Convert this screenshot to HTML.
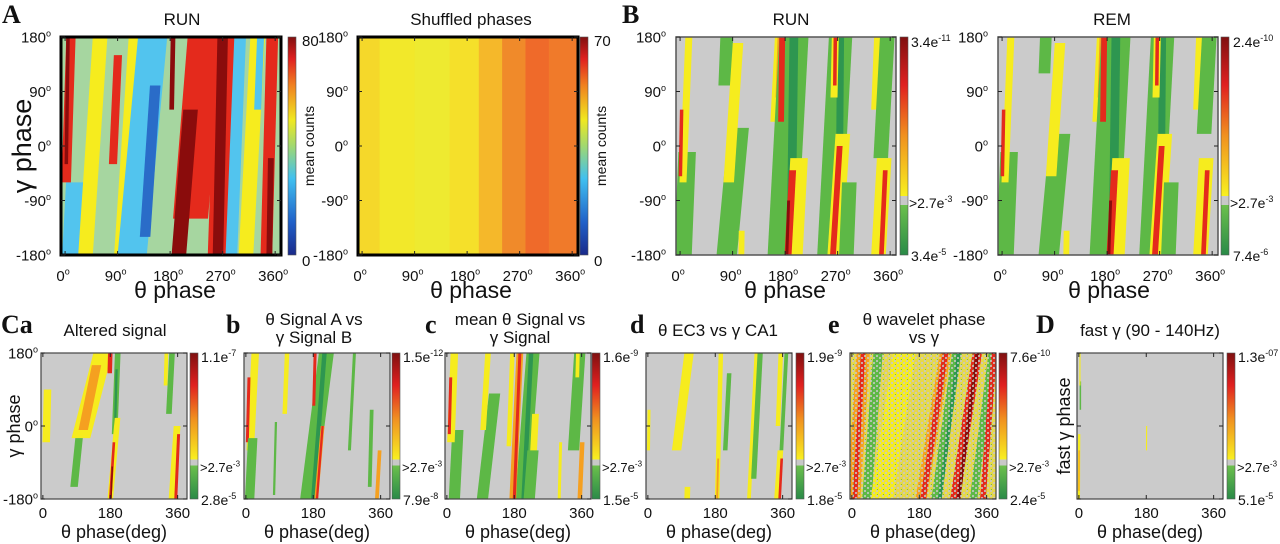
<!DOCTYPE html>
<html><head><meta charset="utf-8">
<style>
html,body{margin:0;padding:0;background:#fff;}
svg{display:block;font-family:"Liberation Sans",sans-serif;}
</style></head>
<body>
<svg id="fig" width="1280" height="544" viewBox="0 0 1280 544" xmlns="http://www.w3.org/2000/svg">
<defs>
<linearGradient id="jet" x1="0" y1="1" x2="0" y2="0">
<stop offset="0" stop-color="#1a2a8a"/><stop offset="0.15" stop-color="#2060c8"/><stop offset="0.35" stop-color="#40c0f0"/><stop offset="0.5" stop-color="#a0d870"/><stop offset="0.62" stop-color="#f0e820"/><stop offset="0.78" stop-color="#f08020"/><stop offset="0.9" stop-color="#e02020"/><stop offset="1" stop-color="#801010"/>
</linearGradient>
<linearGradient id="sig" x1="0" y1="1" x2="0" y2="0">
<stop offset="0" stop-color="#2a8a48"/><stop offset="0.23" stop-color="#6cc04c"/><stop offset="0.23" stop-color="#c8c8c8"/><stop offset="0.27" stop-color="#c8c8c8"/><stop offset="0.27" stop-color="#f8f020"/><stop offset="0.55" stop-color="#f09020"/><stop offset="0.78" stop-color="#e02020"/><stop offset="1" stop-color="#801010"/>
</linearGradient>
<pattern id="speck" width="6" height="5" patternUnits="userSpaceOnUse">
<rect x="0" y="0" width="2" height="2" fill="#c8c8c8"/><rect x="3" y="2" width="2" height="2" fill="#c8c8c8"/><rect x="1" y="4" width="1" height="1" fill="#60b848"/>
</pattern>
</defs>
<g id="root"></g>
</svg>
<script>
// bands: [theta at gamma=-180, theta at gamma=180, width(deg), gamma start, gamma end, color key]
const bandsARun = [
 [10,30,30,-180,-60,'C'],[35,60,25,-180,180,'Y'],[-2,10,16,-60,180,'R'],[0,5,6,-30,180,'DR'],
 [95,120,22,-180,180,'Y'],[115,150,50,-180,180,'C'],[135,160,18,-150,100,'B'],[75,92,14,-30,150,'R'],
 [210,240,60,-120,180,'R'],[195,225,25,-180,60,'DR'],[178,185,8,60,180,'DR'],
 [262,275,35,-180,180,'R'],[262,270,18,-180,180,'DR'],[285,300,20,-180,180,'C'],
 [310,330,25,-180,180,'Y'],[345,355,20,-180,180,'R'],[350,356,10,-180,-20,'DR'],[320,335,12,60,180,'C']
];
const shuffledTheta = [-7,30,90,150,200,240,280,320,370];
const shuffledColor = ['#f5d82a','#f2e82a','#eeea30','#f5e02a','#f5b82a','#f08a2a','#ef6a2a','#f07a2a','#f2a02a'];
const bandsBRun = [
 [5,20,30,-180,-10,'G'],[0,15,12,-60,180,'Y'],[-2,5,6,-50,60,'R'],[65,80,22,100,180,'G'],
 [80,115,35,-180,30,'G'],[75,100,18,-60,170,'Y'],[105,110,10,-180,-140,'Y'],
 [150,170,15,40,180,'Y'],[158,170,6,80,180,'O'],[175,195,50,-180,180,'G'],[190,195,15,-180,180,'DG'],
 [170,175,10,40,180,'R'],[195,215,30,-180,-20,'Y'],[185,205,12,-180,-40,'R'],[183,195,5,-180,-90,'DR'],
 [255,275,40,-180,180,'G'],[272,275,12,-90,180,'DG'],[265,290,25,-180,20,'Y'],[262,285,10,-180,0,'R'],
 [258,266,12,80,180,'Y'],[262,266,6,100,180,'R'],[285,300,25,-180,-60,'G'],[325,340,15,60,180,'Y'],
 [335,355,25,-20,180,'G'],[340,362,25,-180,-20,'Y'],[345,362,8,-180,-40,'R']
];
const bandsBRem = [
 [5,20,30,-180,-10,'G'],[0,15,12,-60,180,'Y'],[-2,5,6,-50,60,'R'],[60,75,20,120,180,'G'],
 [80,115,35,-180,20,'G'],[75,100,18,-50,170,'Y'],[110,115,10,-180,-140,'Y'],
 [150,170,15,40,180,'Y'],[158,170,6,80,180,'O'],[175,195,50,-180,180,'G'],[190,195,15,-180,180,'DG'],
 [170,175,10,40,180,'R'],[195,215,30,-180,-20,'Y'],[185,205,12,-180,-40,'R'],[183,195,5,-180,-90,'DR'],
 [255,275,40,-180,180,'G'],[272,275,12,-90,180,'DG'],[265,290,25,-180,20,'Y'],[262,285,10,-180,0,'R'],
 [258,266,12,80,180,'Y'],[262,266,6,100,180,'R'],[285,300,25,-180,-60,'G'],[325,340,15,60,180,'Y'],
 [335,355,25,20,180,'G'],[340,362,25,-180,-20,'Y'],[345,362,8,-180,-40,'R']
];
const bandsCa = [
 [5,15,20,-40,90,'Y'],[60,160,50,-30,180,'Y'],[70,150,25,-10,150,'O'],[80,120,20,-150,-30,'G'],
 [185,200,15,-20,180,'G'],[188,198,6,0,140,'DG'],[170,180,12,130,180,'R'],[180,215,15,-180,20,'Y'],
 [180,205,7,-180,-40,'R'],[182,198,4,-180,-100,'DR'],[325,345,15,30,180,'G'],[320,330,10,100,180,'Y'],
 [345,372,18,-180,0,'Y'],[355,372,8,-180,-20,'R']
];
const bandsCb = [
 [5,25,20,-60,180,'Y'],[0,10,8,-40,120,'R'],[10,30,25,-180,-30,'G'],[95,110,12,30,180,'Y'],
 [75,85,6,-170,10,'G'],[165,215,40,-180,180,'G'],[180,210,12,-180,180,'DG'],[175,185,8,50,180,'R'],
 [188,222,10,-180,0,'O'],[190,220,6,-180,0,'R'],[270,290,8,-60,180,'G'],[330,340,10,-150,40,'G'],
 [350,372,10,-180,-60,'O']
];
const bandsCc = [
 [20,40,30,-180,-10,'G'],[5,20,20,-40,180,'Y'],[2,12,8,-20,120,'R'],[95,140,30,-180,80,'G'],
 [85,110,15,-10,180,'Y'],[160,175,12,-50,180,'Y'],[200,230,35,-180,180,'G'],[205,225,12,-180,180,'DG'],
 [176,195,18,-180,180,'O'],[180,195,8,-180,180,'R'],[225,245,18,-180,30,'Y'],[220,250,30,-180,-60,'G'],
 [300,310,8,-180,-40,'Y'],[330,355,30,-60,180,'G'],[340,350,10,120,180,'Y'],[355,372,12,-180,-40,'O']
];
const bandsCd = [
 [0,5,8,-60,40,'Y'],[60,110,25,-60,180,'Y'],[105,115,15,-180,-150,'Y'],[185,195,12,-180,180,'Y'],
 [185,195,5,-180,-80,'O'],[200,220,12,-60,130,'G'],[270,290,10,-180,180,'Y'],[280,300,14,-130,180,'G'],
 [340,355,12,0,180,'Y'],[350,370,10,-60,180,'G'],[345,372,15,-180,-60,'Y'],[352,372,7,-180,-80,'R']
];
const bandsCe = [
 [5,30,35,-180,180,'O'],[8,30,12,-180,180,'R'],[40,70,25,-180,180,'G'],[80,140,60,-180,180,'Y'],
 [185,250,30,-180,180,'O'],[190,250,15,-180,180,'R'],[225,280,25,-180,180,'G'],[235,285,10,-180,180,'DG'],
 [275,335,25,-180,180,'R'],[285,335,10,-180,180,'DR'],[325,375,20,-180,180,'G'],[350,380,15,-180,180,'R']
];
const bandsD = [
 [0,2,6,-180,-20,'Y'],[0,2,3,-160,-60,'O'],[4,4,4,40,110,'G'],[180,182,3,-60,0,'Y'],[2,3,3,100,180,'Y']
];
const jetTicks = ['80','0'];
const shufTicks = ['70','0'];
const bRunTicks = [['3.4e','-11'],['>2.7e','-3'],['3.4e','-5']];
const bRemTicks = [['2.4e','-10'],['>2.7e','-3'],['7.4e','-6']];
const cTicks = [
 [['1.1e','-7'],['2.8e','-5']],[['1.5e','-12'],['7.9e','-8']],[['1.6e','-9'],['1.5e','-5']],
 [['1.9e','-9'],['1.8e','-5']],[['7.6e','-10'],['2.4e','-5']],[['1.3e','-07'],['5.1e','-5']]
];
const thetaTicksTop = [0,90,180,270,360];
const gammaTicksTop = [180,90,0,-90,-180];
const thetaTicksBot = [0,180,360];
const gammaTicksBot = [180,0,-180];

const COL = {Y:'#f6ec1e',O:'#f5a020',R:'#e42a1c',DR:'#8a0c0c',G:'#5db846',DG:'#2e9650',C:'#52c4ee',B:'#2a6cc8'};
const NS='http://www.w3.org/2000/svg';
const root=document.getElementById('root');
function el(tag,attrs,parent){const e=document.createElementNS(NS,tag);for(const k in attrs)e.setAttribute(k,attrs[k]);(parent||root).appendChild(e);return e;}
function txt(x,y,s,size,anchor,parent,extra){const t=el('text',Object.assign({x:x,y:y,'font-size':size,'text-anchor':anchor||'start',fill:'#111'},extra||{}),parent);t.textContent=s;return t;}
function supTxt(x,y,base,sup,size,anchor,parent){
 const t=el('text',{x:x,y:y,'font-size':size,'text-anchor':anchor||'start',fill:'#111'},parent);
 t.appendChild(document.createTextNode(base));
 const s=document.createElementNS(NS,'tspan');
 s.setAttribute('font-size',Math.round(size*0.62));
 s.setAttribute('dy',-size*0.42);
 s.textContent=sup;t.appendChild(s);return t;}

let clipId=0;
function panel(cfg){
 const g=el('g',{});
 
 
 const X=th=>cfg.x+(th-cfg.d0)/(cfg.d1-cfg.d0)*cfg.w;
 const Y=ga=>cfg.y+cfg.h-(ga+180)/360*cfg.h;
 const cid='c'+(clipId++);
 const cp=el('clipPath',{id:cid},g);el('rect',{x:cfg.x,y:cfg.y,width:cfg.w,height:cfg.h},cp);
 const inner=el('g',{'clip-path':'url(#'+cid+')'},g);
 const bg=el('rect',{x:cfg.x,y:cfg.y,width:cfg.w,height:cfg.h,fill:cfg.bg},inner);
 
 
 if(cfg.strips){
  const th=cfg.strips[0],co=cfg.strips[1];
  for(let i=0;i<th.length-1;i++){
   const r=el('rect',{x:X(th[i]),y:cfg.y,width:X(th[i+1])-X(th[i])+0.5,height:cfg.h,fill:co[i]},inner);
   
   
  }
 }
 (cfg.bands||[]).forEach(b=>{
  const c0=b[0]+(b[1]-b[0])*(b[3]+180)/360, c1=b[0]+(b[1]-b[0])*(b[4]+180)/360, hw=b[2]/2;
  const pts=[[X(c0-hw),Y(b[3])],[X(c0+hw),Y(b[3])],[X(c1+hw),Y(b[4])],[X(c1-hw),Y(b[4])]].map(p=>p.join(',')).join(' ');
  const p=el('polygon',{points:pts,fill:COL[b[5]]},inner);
  
  
 });
 if(cfg.speck){const s=el('rect',{x:cfg.x,y:cfg.y,width:cfg.w,height:cfg.h,fill:'url(#speck)',opacity:0.8},inner);}
 const fr=el('rect',{x:cfg.x,y:cfg.y,width:cfg.w,height:cfg.h,fill:'none',stroke:cfg.frameCol,'stroke-width':cfg.frameW},g);
 
 
 cfg.tt.forEach(t=>{
  el('line',{x1:X(t),x2:X(t),y1:cfg.y+cfg.h,y2:cfg.y+cfg.h-4,stroke:'#222','stroke-width':1},g);
  el('line',{x1:X(t),x2:X(t),y1:cfg.y,y2:cfg.y+4,stroke:'#222','stroke-width':1},g);
  const lab=cfg.deg?supTxt(X(t)-2,cfg.tickY,String(t),'o',cfg.tfs,'middle',g):txt(X(t),cfg.tickY,String(t),cfg.tfs,'middle',g);
  
  
 });
 cfg.gt.forEach(t=>{
  el('line',{x1:cfg.x,x2:cfg.x+4,y1:Y(t),y2:Y(t),stroke:'#222','stroke-width':1},g);
  el('line',{x1:cfg.x+cfg.w,x2:cfg.x+cfg.w-4,y1:Y(t),y2:Y(t),stroke:'#222','stroke-width':1},g);
  if(cfg.ylab){const lab=supTxt(cfg.x-(cfg.yoff||10),Y(t)+cfg.tfs*0.38,String(t),'o',cfg.tfs,'end',g);}
 });
 const cb=el('rect',{x:cfg.cbx,y:cfg.y,width:8,height:cfg.h,fill:cfg.cbFill,stroke:'#555','stroke-width':0.6},g);
 
 
 return {g:g,X:X,Y:Y};
}

const topY=37,topH=218;
let p=panel({name:'run-heatmap',x:61,y:topY,w:220,h:topH,d0:-7,d1:370,bg:'#a6d6a0',bands:bandsARun,frameCol:'#000',frameW:3,tt:thetaTicksTop,gt:gammaTicksTop,ylab:true,deg:true,tickY:281,tfs:15,cbx:288,cbFill:'url(#jet)'});
txt(302,46,jetTicks[0],15,'start',p.g);txt(302,266,jetTicks[1],15,'start',p.g);
txt(0,0,'mean counts',14,'middle',p.g,{transform:'translate(314,146) rotate(-90)'});
p=panel({name:'shuffled-heatmap',x:358,y:topY,w:220,h:topH,d0:-7,d1:370,bg:'#f2e82a',strips:[shuffledTheta,shuffledColor],frameCol:'#000',frameW:3,tt:thetaTicksTop,gt:gammaTicksTop,ylab:true,deg:true,tickY:281,tfs:15,cbx:580,cbFill:'url(#jet)'});
txt(594,46,shufTicks[0],15,'start',p.g);txt(594,266,shufTicks[1],15,'start',p.g);
txt(0,0,'mean counts',14,'middle',p.g,{transform:'translate(606,146) rotate(-90)'});
p=panel({name:'b-run-heatmap',x:676,y:topY,w:220,h:topH,d0:-7,d1:370,bg:'#cbcbcb',bands:bandsBRun,frameCol:'#555',frameW:1.5,tt:thetaTicksTop,gt:gammaTicksTop,ylab:true,deg:true,tickY:281,tfs:15,cbx:900,cbFill:'url(#sig)'});
supTxt(911,47,bRunTicks[0][0],bRunTicks[0][1],14,'start',p.g);supTxt(909,208,bRunTicks[1][0],bRunTicks[1][1],14,'start',p.g);supTxt(911,261,bRunTicks[2][0],bRunTicks[2][1],14,'start',p.g);
p=panel({name:'b-rem-heatmap',x:998,y:topY,w:220,h:topH,d0:-7,d1:370,bg:'#cbcbcb',bands:bandsBRem,frameCol:'#555',frameW:1.5,tt:thetaTicksTop,gt:gammaTicksTop,ylab:true,deg:true,tickY:281,tfs:15,cbx:1221,cbFill:'url(#sig)'});
supTxt(1233,47,bRemTicks[0][0],bRemTicks[0][1],14,'start',p.g);supTxt(1230,208,bRemTicks[1][0],bRemTicks[1][1],14,'start',p.g);supTxt(1233,261,bRemTicks[2][0],bRemTicks[2][1],14,'start',p.g);

const botY=353,botH=146;
const bot=[
 {name:'altered-signal-heatmap',x:41,cb:190,bands:bandsCa,ylab:true},
 {name:'signal-a-vs-b-heatmap',x:244,cb:392,bands:bandsCb},
 {name:'mean-signal-heatmap',x:445,cb:592,bands:bandsCc},
 {name:'ec3-vs-ca1-heatmap',x:646,cb:796,bands:bandsCd},
 {name:'wavelet-phase-heatmap',x:850,cb:999,bands:bandsCe,speck:true},
 {name:'fast-gamma-heatmap',x:1077,cb:1227,bands:bandsD}
];
bot.forEach((b,i)=>{
 const q=panel({name:b.name,x:b.x,y:botY,w:146,h:botH,d0:-5,d1:385,bg:b.speck?'#e6d84a':'#cbcbcb',bands:b.bands,speck:b.speck,frameCol:'#444',frameW:1.2,tt:thetaTicksBot,gt:gammaTicksBot,ylab:!!b.ylab,yoff:3,deg:false,tickY:518,tfs:15,cbx:b.cb,cbFill:'url(#sig)'});
 const t=cTicks[i];
 supTxt(b.cb+11,362,t[0][0],t[0][1],14,'start',q.g);
 supTxt(b.cb+10,472,'>2.7e','-3',13,'start',q.g);
 supTxt(b.cb+11,505,t[1][0],t[1][1],14,'start',q.g);
});

function label(x,y,s,size,anchor,name,extra){const t=txt(x,y,s,size,anchor,root,extra);return t;}
const serif={'font-family':'Liberation Serif, serif','font-weight':'bold'};
label(2,23,'A',26,'start','panel-letter-a',serif);
label(622,23,'B',26,'start','panel-letter-b',serif);
label(1,333,'Ca',26,'start','panel-letter-ca',serif);
label(226,333,'b',26,'start','panel-letter-b-small',serif);
label(425,333,'c',26,'start','panel-letter-c',serif);
label(630,333,'d',26,'start','panel-letter-d',serif);
label(828,333,'e',26,'start','panel-letter-e',serif);
label(1036,333,'D',26,'start','panel-letter-d-big',serif);
label(182,25,'RUN',17,'middle','title-run');
label(471,25,'Shuffled phases',17,'middle','title-shuffled');
label(791,25,'RUN',17,'middle','title-b-run');
label(1112,25,'REM',17,'middle','title-b-rem');
label(115,336,'Altered signal',17,'middle','title-altered');
label(314,325,'θ Signal A vs',17,'middle','title-signal-a');
label(314,343,'γ  Signal B',17,'middle','title-signal-b');
label(520,325,'mean θ Signal vs',17,'middle','title-mean-signal');
label(520,343,'γ Signal',17,'middle','title-mean-signal-2');
label(718,336,'θ EC3 vs γ CA1',17,'middle','title-ec3');
label(924,325,'θ wavelet phase',17,'middle','title-wavelet');
label(924,343,'vs γ',17,'middle','title-wavelet-2');
label(1150,336,'fast γ (90 - 140Hz)',17,'middle','title-fast-gamma');
label(175,298,'θ phase',23,'middle','x-axis-title-a-run');
label(471,298,'θ phase',23,'middle','x-axis-title-shuffled');
label(785,298,'θ phase',23,'middle','x-axis-title-b-run');
label(1109,298,'θ phase',23,'middle','x-axis-title-b-rem');
[114,317,518,719,923,1150].forEach(cx=>{label(cx,538,'θ phase(deg)',18,'middle','x-axis-title-bottom');});
label(0,0,'γ phase',27,'middle','y-axis-title-a',{transform:'translate(31,146) rotate(-90)'});
label(0,0,'γ phase',18,'middle','y-axis-title-c',{transform:'translate(20,426) rotate(-90)'});
label(0,0,'fast γ phase',18,'middle','y-axis-title-d',{transform:'translate(1070,426) rotate(-90)'});
</script>
</body></html>
